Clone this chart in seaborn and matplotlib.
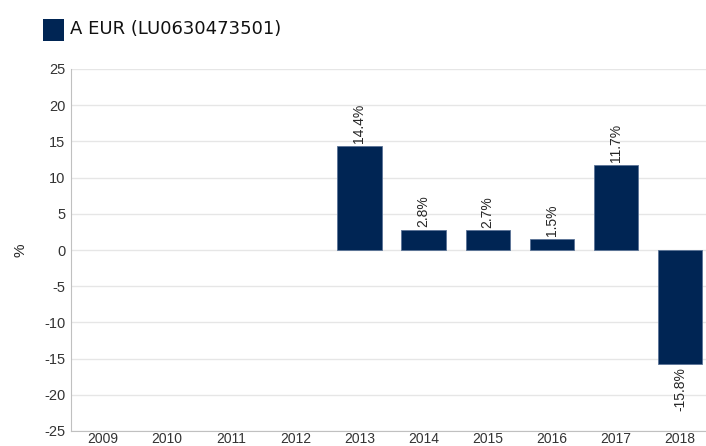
import numpy as np
import pandas as pd
import matplotlib
matplotlib.use("Agg")
import matplotlib.pyplot as plt
import seaborn as sns
from matplotlib.patches import Rectangle

years = ["2009", "2010", "2011", "2012", "2013", "2014", "2015", "2016", "2017", "2018"]
returns = [np.nan, np.nan, np.nan, np.nan, 14.4, 2.8, 2.7, 1.5, 11.7, -15.8]
series_name = "A EUR (LU0630473501)"
navy = "#002554"

sns.set_style("white")
plt.rcParams["font.family"] = ["Liberation Sans", "DejaVu Sans"]
plt.rcParams["axes.unicode_minus"] = False

df = pd.DataFrame({"year": years, "ret": returns})

fig = plt.figure(figsize=(7.06, 4.46), dpi=100)
ax = fig.add_axes([71 / 706, 15 / 446, 641 / 706, 362 / 446])

sns.barplot(data=df, x="year", y="ret", color=navy, saturation=1, width=0.69,
            edgecolor="#5a7396", linewidth=0.6, ax=ax, zorder=3)

ax.set_ylim(-25, 25)
ax.set_yticks(np.arange(-25, 26, 5))
ax.grid(axis="y", color="#e6e6e6", linewidth=1, zorder=0)
ax.set_xlabel("")
ax.set_ylabel("%", fontsize=11, labelpad=12)
ax.tick_params(axis="y", labelsize=10.5, colors="#333333", length=0, pad=4)
ax.tick_params(axis="x", labelsize=10, colors="#333333", length=0, pad=0.5)
for side in ["top", "right"]:
    ax.spines[side].set_visible(False)
ax.spines["left"].set_color("#c0c0c0")
ax.spines["bottom"].set_color("#c0c0c0")

# value labels
for i, v in enumerate(returns):
    if np.isnan(v):
        continue
    if v >= 0:
        ax.text(i, v + 0.4, f"{v:.1f}%", rotation=90, ha="center", va="bottom", fontsize=10)
    else:
        ax.text(i, v - 0.4, f"{v:.1f}%", rotation=90, ha="center", va="top", fontsize=10)

# legend at top
fig.patches.append(Rectangle((43 / 706, 1 - 41 / 446), 21 / 706, 22 / 446,
                             transform=fig.transFigure, facecolor=navy, edgecolor="none"))
fig.text(70 / 706, 1 - 29 / 446, series_name, fontsize=13, va="center", ha="left",
         family=["DejaVu Sans"], color="#111111")

fig.savefig("out.png", dpi=100)
